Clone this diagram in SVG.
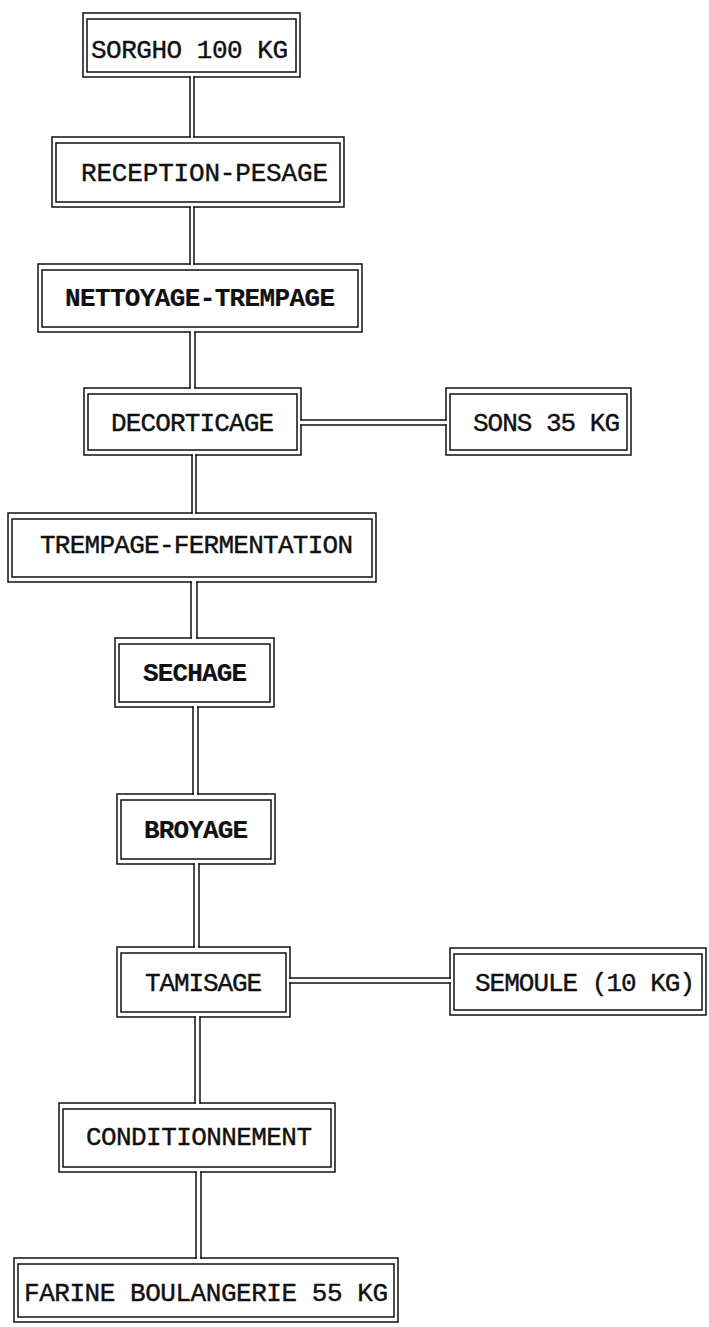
<svg xmlns="http://www.w3.org/2000/svg" width="709" height="1327" viewBox="0 0 709 1327">
<style>
.o,.i,.c{fill:none;stroke:#111;stroke-width:1.5;stroke-linecap:square}
text{font-family:"Liberation Mono","Courier New",monospace;font-size:26px;fill:#111;stroke:#111;stroke-width:0.4}
.b{font-weight:bold;stroke-width:0.2}
</style>
<rect width="709" height="1327" fill="#fff"/>
<g id="connectors">
<path class="c" d="M190,77 V137 M194,77 V137"/>
<path class="c" d="M190,207 V264 M194,207 V264"/>
<path class="c" d="M190,332 V388 M195,332 V388"/>
<path class="c" d="M192,455 V513 M196,455 V513"/>
<path class="c" d="M191,582 V638 M197,582 V638"/>
<path class="c" d="M193,707 V794 M198,707 V794"/>
<path class="c" d="M194,864 V947 M199,864 V947"/>
<path class="c" d="M195,1017 V1103 M200,1017 V1103"/>
<path class="c" d="M196,1172 V1258 M201,1172 V1258"/>
<path class="c" d="M301,420 H446 M301,425 H446"/>
<path class="c" d="M290,978 H450 M290,983 H450"/>
</g>
<g id="n1">
<path class="o" d="M83,13 H300 V77 H194 M190,77 H83 V13"/>
<rect class="i" x="87" y="19" width="209" height="53"/>
<text x="91" y="58" textLength="197">SORGHO 100 KG</text>
</g>
<g id="n2">
<path class="o" d="M52,137 H190 M194,137 H344 V207 H194 M190,207 H52 V137"/>
<rect class="i" x="56" y="143" width="284" height="59"/>
<text x="81" y="181" textLength="247">RECEPTION-PESAGE</text>
</g>
<g id="n3">
<path class="o" d="M38,264 H190 M194,264 H362 V332 H195 M190,332 H38 V264"/>
<rect class="i" x="42" y="270" width="316" height="57"/>
<text class="b" x="65" y="306" textLength="270">NETTOYAGE-TREMPAGE</text>
</g>
<g id="n4">
<path class="o" d="M84,388 H190 M195,388 H301 V420 M301,425 V455 H196 M192,455 H84 V388"/>
<rect class="i" x="88" y="394" width="209" height="56"/>
<text x="111" y="431" textLength="163">DECORTICAGE</text>
</g>
<g id="n5">
<path class="o" d="M446,388 H631 V455 H446 V425 M446,420 V388"/>
<rect class="i" x="450" y="394" width="177" height="56"/>
<text x="473" y="431" textLength="147">SONS 35 KG</text>
</g>
<g id="n6">
<path class="o" d="M8,513 H192 M196,513 H376 V582 H197 M191,582 H8 V513"/>
<rect class="i" x="12" y="519" width="360" height="58"/>
<text x="40" y="553" textLength="313">TREMPAGE-FERMENTATION</text>
</g>
<g id="n7">
<path class="o" d="M115,638 H191 M197,638 H274 V707 H198 M193,707 H115 V638"/>
<rect class="i" x="119" y="644" width="151" height="58"/>
<text class="b" x="143" y="681" textLength="104">SECHAGE</text>
</g>
<g id="n8">
<path class="o" d="M117,794 H193 M198,794 H275 V864 H199 M194,864 H117 V794"/>
<rect class="i" x="121" y="800" width="150" height="59"/>
<text class="b" x="144" y="838" textLength="104">BROYAGE</text>
</g>
<g id="n9">
<path class="o" d="M117,947 H194 M199,947 H290 V978 M290,983 V1017 H200 M195,1017 H117 V947"/>
<rect class="i" x="121" y="953" width="165" height="59"/>
<text x="145" y="991" textLength="117">TAMISAGE</text>
</g>
<g id="n10">
<path class="o" d="M450,948 H706 V1015 H450 V983 M450,978 V948"/>
<rect class="i" x="454" y="954" width="248" height="56"/>
<text x="475" y="991" textLength="220">SEMOULE (10 KG)</text>
</g>
<g id="n11">
<path class="o" d="M59,1103 H195 M200,1103 H335 V1172 H201 M196,1172 H59 V1103"/>
<rect class="i" x="63" y="1109" width="268" height="58"/>
<text x="86" y="1145" textLength="226">CONDITIONNEMENT</text>
</g>
<g id="n12">
<path class="o" d="M14,1258 H196 M201,1258 H398 V1322 H14 V1258"/>
<rect class="i" x="18" y="1264" width="376" height="53"/>
<text x="24" y="1301" textLength="364">FARINE BOULANGERIE 55 KG</text>
</g>
</svg>
